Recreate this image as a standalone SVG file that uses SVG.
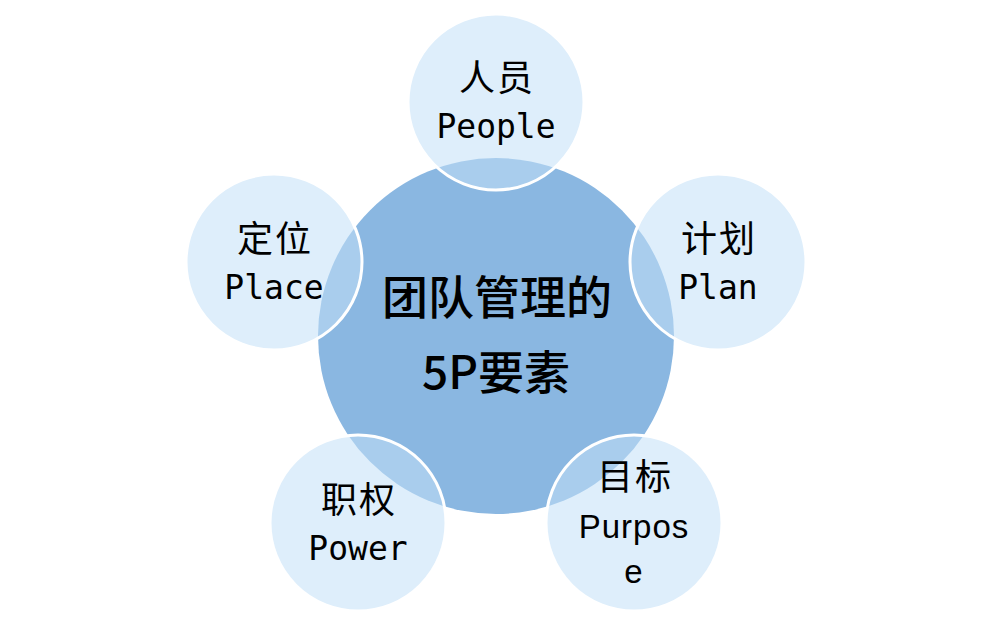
<svg xmlns="http://www.w3.org/2000/svg" width="993" height="627" viewBox="0 0 993 627">
<style>
.hub{fill:#8AB7E1;}
.sat{fill:#C2E0F7;fill-opacity:0.55;stroke:#FFFFFF;stroke-width:3;}
.cn{font-family:"Noto Sans CJK SC","Noto Sans",sans-serif;font-size:36px;fill:#000;text-anchor:middle;letter-spacing:2px;}
.en{font-family:"DejaVu Sans Mono","Liberation Mono",monospace;font-size:33px;fill:#000;text-anchor:middle;}
.en2{font-family:"Liberation Sans",Arial,sans-serif;font-size:33px;fill:#000;text-anchor:middle;letter-spacing:1px;}
.hubt{font-family:"Noto Sans CJK SC","Noto Sans",sans-serif;font-size:46px;font-weight:500;fill:#000;text-anchor:middle;}
</style>
<rect width="993" height="627" fill="#FFFFFF"/>
<g id="hub">
<circle class="hub" cx="496" cy="336" r="178"/>
<text class="hubt" x="497" y="314">团队管理的</text>
<text class="hubt" x="496" y="389">5P要素</text>
</g>
<g id="people">
<circle class="sat" cx="496" cy="102" r="88"/>
<text class="cn" x="497" y="91">人员</text>
<text class="en" x="496" y="138">People</text>
</g>
<g id="plan">
<circle class="sat" cx="718" cy="262" r="88"/>
<text class="cn" x="719" y="252">计划</text>
<text class="en" x="718" y="299">Plan</text>
</g>
<g id="place">
<circle class="sat" cx="274" cy="262" r="88"/>
<text class="cn" x="275" y="252">定位</text>
<text class="en" x="274" y="299">Place</text>
</g>
<g id="power">
<circle class="sat" cx="358" cy="523" r="88"/>
<text class="cn" x="359" y="513">职权</text>
<text class="en" x="358" y="560">Power</text>
</g>
<g id="purpose">
<circle class="sat" cx="634" cy="523" r="88"/>
<text class="cn" x="635" y="490">目标</text>
<text class="en2" x="634" y="538">Purpos</text>
<text class="en2" x="634" y="583">e</text>
</g>
<g id="connectors"></g>
</svg>
